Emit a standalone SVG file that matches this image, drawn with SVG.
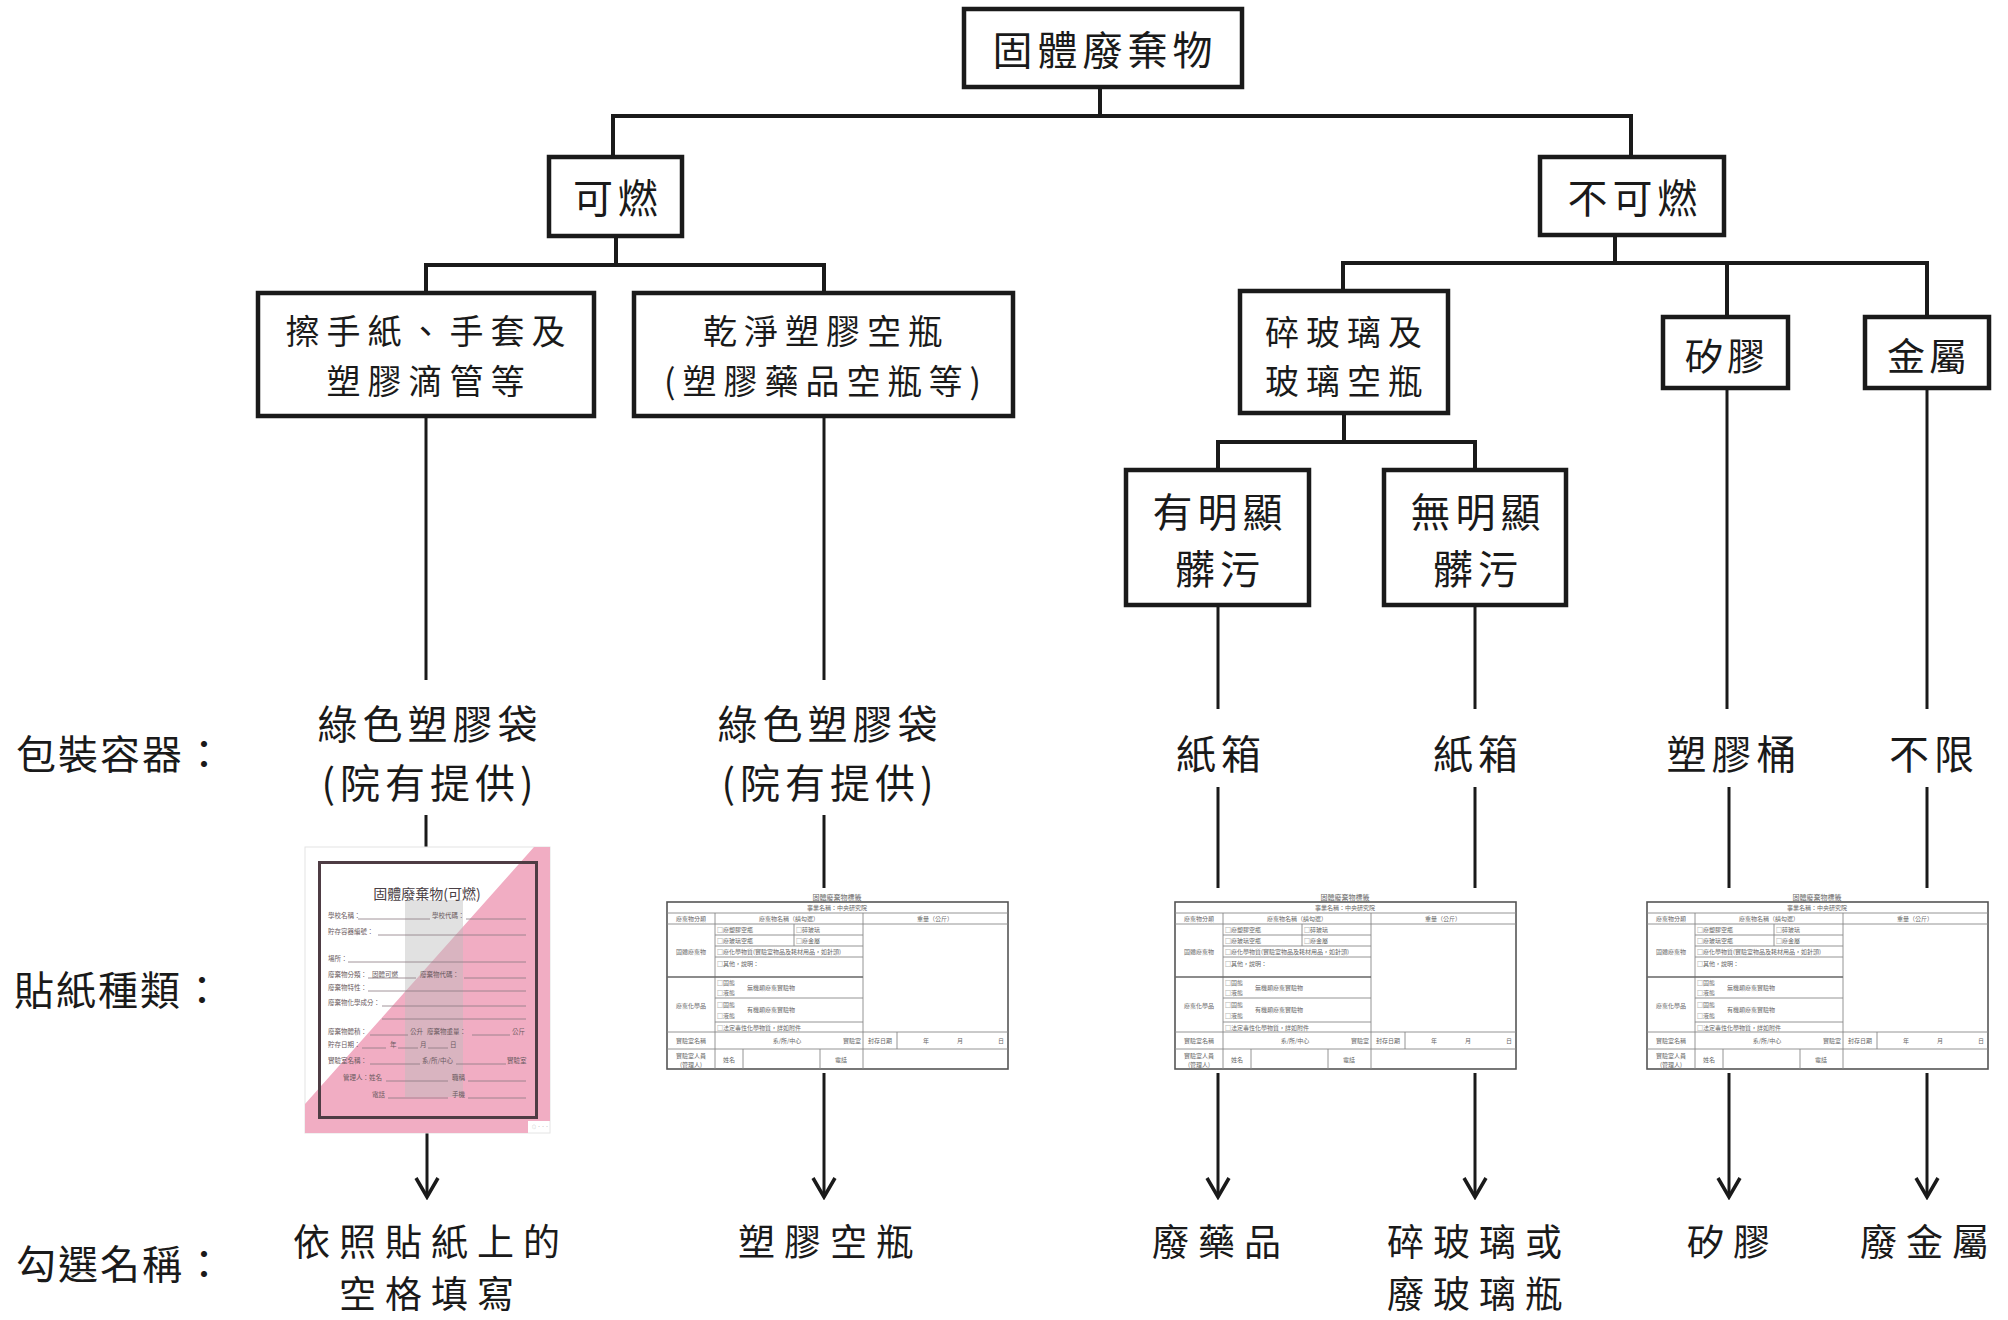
<svg xmlns="http://www.w3.org/2000/svg" xmlns:xlink="http://www.w3.org/1999/xlink" width="2008" height="1320" viewBox="0 0 2008 1320">
<style>
.box{fill:#fff;stroke:#1a1a1a;stroke-width:4.5}
.t{font-family:"Noto Sans CJK TC","Noto Sans CJK SC",sans-serif;font-size:40px;fill:#1a1a1a;text-anchor:middle;dominant-baseline:central;letter-spacing:5px}
.tb{font-family:"Noto Sans CJK TC","Noto Sans CJK SC",sans-serif;font-size:38px;fill:#1a1a1a;text-anchor:middle;dominant-baseline:central;letter-spacing:4px}
.t2{font-family:"Noto Sans CJK TC","Noto Sans CJK SC",sans-serif;font-size:34px;fill:#1a1a1a;text-anchor:middle;dominant-baseline:central;letter-spacing:7px}
.t3{font-family:"Noto Sans CJK TC","Noto Sans CJK SC",sans-serif;font-size:37px;fill:#1a1a1a;text-anchor:middle;dominant-baseline:central;letter-spacing:9px}
.lbl{font-family:"Noto Sans CJK TC","Noto Sans CJK SC",sans-serif;font-size:40px;fill:#1a1a1a;dominant-baseline:central;letter-spacing:2px}
.tree{stroke:#1a1a1a;stroke-width:4;fill:none;stroke-linecap:square}
.v{stroke:#1a1a1a;stroke-width:3;fill:none}
.fs{font-family:"Noto Sans CJK TC","Noto Sans CJK SC",sans-serif;font-size:6px;fill:#666;dominant-baseline:central}
.fc{text-anchor:middle}
.tl{stroke:#888;stroke-width:0.9;fill:none}
.sk{font-family:"Noto Sans CJK TC","Noto Sans CJK SC",sans-serif;font-size:6.5px;fill:#6a5a60;dominant-baseline:central}
.ul{stroke:#8a7a80;stroke-width:0.8}
</style>
<defs>
<marker id="arr" viewBox="0 0 24 26" refX="21" refY="13" markerWidth="24" markerHeight="26" markerUnits="userSpaceOnUse" orient="auto">
<path d="M2,2 L21,13 L2,24" fill="none" stroke="#1a1a1a" stroke-width="3.5"/>
</marker>
<g id="formTable">
<text class="fs fc" x="170" y="-5" style="font-size:7px">固體廢棄物標籤</text>
<rect x="0" y="0" width="341" height="167" fill="#fff" stroke="#555" stroke-width="1.6"/>
<path class="tl" d="M0,11H341M0,22H341M48,33H196M48,44H196M48,55H196M48,96H196M48,120H196M0,130H341M0,147H341M48,11V167M196,11V167M127,22V44M230,130V147M76,147V167M153,147V167"/>
<path d="M0,75H196" stroke="#666" stroke-width="1.3"/>
<text class="fs fc" x="170" y="5.5">事業名稱：中央研究院</text>
<text class="fs fc" x="24" y="16.5">廢棄物分類</text>
<text class="fs fc" x="122" y="16.5">廢棄物名稱（請勾選）</text>
<text class="fs fc" x="268" y="16.5">重量（公斤）</text>
<text class="fs fc" x="24" y="49">固體廢棄物</text>
<text class="fs fc" x="24" y="103">廢棄化學品</text>
<text class="fs" x="50" y="27.5">□廢塑膠空瓶</text>
<text class="fs" x="129" y="27.5">□碎玻璃</text>
<text class="fs" x="50" y="38.5">□廢玻璃空瓶</text>
<text class="fs" x="129" y="38.5">□廢金屬</text>
<text class="fs" x="50" y="49.5">□廢化學物質(實驗室物品及耗材用品，如針頭)</text>
<text class="fs" x="50" y="61">□其他，說明：</text>
<text class="fs" x="50" y="80">□固態</text>
<text class="fs" x="50" y="90">□液態</text>
<text class="fs" x="80" y="85">無機類廢棄實驗物</text>
<text class="fs" x="50" y="102">□固態</text>
<text class="fs" x="50" y="113">□液態</text>
<text class="fs" x="80" y="107.5">有機類廢棄實驗物</text>
<text class="fs" x="50" y="125">□法定毒性化學物質，詳如附件</text>
<text class="fs fc" x="24" y="138.5">實驗室名稱</text>
<text class="fs fc" x="120" y="138.5">系/所/中心</text>
<text class="fs" x="176" y="138.5">實驗室</text>
<text class="fs fc" x="213" y="138.5">封存日期</text>
<text class="fs" x="256" y="138.5">年</text>
<text class="fs" x="290" y="138.5">月</text>
<text class="fs" x="331" y="138.5">日</text>
<text class="fs fc" x="24" y="157"><tspan x="24" y="153">實驗室人員</tspan><tspan x="24" y="161.5">(管理人)</tspan></text>
<text class="fs fc" x="62" y="157">姓名</text>
<text class="fs fc" x="174" y="157">電話</text>
</g>
</defs>

<g id="connectors">
<path class="tree" d="M1100,87V116M613,116H1631M613,116V157M1631,116V157"/>
<path class="tree" d="M616,236V265M426,265H824M426,265V293M824,265V293"/>
<path class="tree" d="M1615,235V263M1343,263H1927M1343,263V291M1727,263V317M1927,263V317"/>
<path class="tree" d="M1344,413V442M1218,442H1475M1218,442V470M1475,442V470"/>
<path class="v" d="M426,416V680M426,815V847"/>
<path class="v" d="M824,416V680M824,815V888"/>
<path class="v" d="M1218,605V709M1218,787V888"/>
<path class="v" d="M1475,605V709M1475,787V888"/>
<path class="v" d="M1727,388V709M1729,787V888"/>
<path class="v" d="M1927,388V709M1927,787V888"/>
<line class="v" x1="427" y1="1133" x2="427" y2="1197" marker-end="url(#arr)"/>
<line class="v" x1="824" y1="1073" x2="824" y2="1197" marker-end="url(#arr)"/>
<line class="v" x1="1218" y1="1073" x2="1218" y2="1197" marker-end="url(#arr)"/>
<line class="v" x1="1475" y1="1073" x2="1475" y2="1197" marker-end="url(#arr)"/>
<line class="v" x1="1729" y1="1073" x2="1729" y2="1197" marker-end="url(#arr)"/>
<line class="v" x1="1927" y1="1073" x2="1927" y2="1197" marker-end="url(#arr)"/>
</g>

<g id="n-root"><rect class="box" x="964" y="9" width="278" height="78"/><text class="t" x="1105" y="48">固體廢棄物</text></g>
<g id="n-combustible"><rect class="box" x="549" y="157" width="133" height="79"/><text class="t" x="618" y="196">可燃</text></g>
<g id="n-noncombustible"><rect class="box" x="1540" y="157" width="184" height="78"/><text class="t" x="1635" y="196">不可燃</text></g>
<g id="n-paper"><rect class="box" x="258" y="293" width="336" height="123"/><text class="t2"><tspan x="429" y="329">擦手紙、手套及</tspan><tspan x="429" y="379">塑膠滴管等</tspan></text></g>
<g id="n-plastic"><rect class="box" x="634" y="293" width="379" height="123"/><text class="t2"><tspan x="826" y="329">乾淨塑膠空瓶</tspan><tspan x="826" y="379">(塑膠藥品空瓶等)</tspan></text></g>
<g id="n-glass"><rect class="box" x="1240" y="291" width="208" height="122"/><text class="t2"><tspan x="1347" y="330">碎玻璃及</tspan><tspan x="1347" y="379">玻璃空瓶</tspan></text></g>
<g id="n-silica"><rect class="box" x="1663" y="317" width="125" height="71"/><text class="tb" x="1727" y="353">矽膠</text></g>
<g id="n-metal"><rect class="box" x="1865" y="317" width="124" height="71"/><text class="tb" x="1929" y="353">金屬</text></g>
<g id="n-dirty"><rect class="box" x="1126" y="470" width="183" height="135"/><text class="t"><tspan x="1220" y="510">有明顯</tspan><tspan x="1220" y="567">髒污</tspan></text></g>
<g id="n-clean"><rect class="box" x="1384" y="470" width="182" height="135"/><text class="t"><tspan x="1478" y="510">無明顯</tspan><tspan x="1478" y="567">髒污</tspan></text></g>

<g id="row-labels">
<text class="lbl" x="16" y="752">包裝容器：</text>
<text class="lbl" x="14" y="988">貼紙種類：</text>
<text class="lbl" x="16" y="1262">勾選名稱：</text>
</g>

<g id="containers">
<text class="t"><tspan x="430" y="722">綠色塑膠袋</tspan><tspan x="430" y="781">(院有提供)</tspan></text>
<text class="t"><tspan x="830" y="722">綠色塑膠袋</tspan><tspan x="830" y="781">(院有提供)</tspan></text>
<text class="t" x="1221" y="752">紙箱</text>
<text class="t" x="1478" y="752">紙箱</text>
<text class="t" x="1734" y="752">塑膠桶</text>
<text class="t" x="1934" y="752">不限</text>
</g>

<g id="sticker">
<rect x="305" y="847" width="245" height="286" fill="#fff" stroke="#e4e4e4" stroke-width="1"/>
<polygon points="534,847 550,847 550,1121 528,1121 528,1133 305,1133 305,1104" fill="#f1adc3"/>
<rect x="405" y="900" width="58" height="197" fill="#bdbdbd" opacity="0.45"/>
<rect x="319.5" y="862.5" width="217" height="255" fill="none" stroke="#4e3c44" stroke-width="3"/>
<text class="sk" x="427" y="893" text-anchor="middle" style="font-size:14px;fill:#4a4045">固體廢棄物(可燃)</text>
<text class="sk" x="328" y="915">學校名稱：</text><line class="ul" x1="358" y1="919" x2="430" y2="919"/><text class="sk" x="432" y="915">學校代碼：</text><line class="ul" x1="466" y1="919" x2="526" y2="919"/>
<text class="sk" x="328" y="931">貯存容器編號：</text><line class="ul" x1="378" y1="935" x2="526" y2="935"/>
<text class="sk" x="328" y="958">場所：</text><line class="ul" x1="348" y1="962" x2="526" y2="962"/>
<text class="sk" x="328" y="974">廢棄物分類：</text><text class="sk" x="372" y="974">固體可燃</text><line class="ul" x1="368" y1="978" x2="416" y2="978"/><text class="sk" x="420" y="974">廢棄物代碼：</text><line class="ul" x1="464" y1="978" x2="526" y2="978"/>
<text class="sk" x="328" y="987">廢棄物特性：</text><line class="ul" x1="368" y1="991" x2="526" y2="991"/>
<text class="sk" x="328" y="1002">廢棄物化學成分：</text><line class="ul" x1="382" y1="1006" x2="526" y2="1006"/>
<line class="ul" x1="382" y1="1019" x2="526" y2="1019"/>
<text class="sk" x="328" y="1031">廢棄物體積：</text><line class="ul" x1="370" y1="1035" x2="408" y2="1035"/><text class="sk" x="410" y="1031">公升</text><text class="sk" x="427" y="1031">廢棄物重量：</text><line class="ul" x1="472" y1="1035" x2="510" y2="1035"/><text class="sk" x="512" y="1031">公斤</text>
<text class="sk" x="328" y="1044">貯存日期：</text><line class="ul" x1="362" y1="1048" x2="386" y2="1048"/><text class="sk" x="390" y="1044">年</text><line class="ul" x1="398" y1="1048" x2="418" y2="1048"/><text class="sk" x="420" y="1044">月</text><line class="ul" x1="428" y1="1048" x2="448" y2="1048"/><text class="sk" x="450" y="1044">日</text>
<text class="sk" x="328" y="1060">實驗室名稱：</text><line class="ul" x1="370" y1="1064" x2="420" y2="1064"/><text class="sk" x="422" y="1060">系/所/中心</text><line class="ul" x1="456" y1="1064" x2="506" y2="1064"/><text class="sk" x="507" y="1060">實驗室</text>
<text class="sk" x="343" y="1077">管理人：姓名</text><line class="ul" x1="386" y1="1081" x2="448" y2="1081"/><text class="sk" x="452" y="1077">職稱</text><line class="ul" x1="468" y1="1081" x2="526" y2="1081"/>
<text class="sk" x="372" y="1094">電話</text><line class="ul" x1="388" y1="1098" x2="448" y2="1098"/><text class="sk" x="452" y="1094">手機</text><line class="ul" x1="468" y1="1098" x2="526" y2="1098"/>
<text class="sk" x="532" y="1127" style="font-size:4px;fill:#aaa">◎ ···</text>
</g>

<g id="tables">
<use xlink:href="#formTable" x="667" y="902"/>
<use xlink:href="#formTable" x="1175" y="902"/>
<use xlink:href="#formTable" x="1647" y="902"/>
</g>

<g id="names">
<text class="t3"><tspan x="431" y="1240">依照貼紙上的</tspan><tspan x="431" y="1292">空格填寫</tspan></text>
<text class="t3" x="830" y="1240">塑膠空瓶</text>
<text class="t3" x="1221" y="1240">廢藥品</text>
<text class="t3"><tspan x="1479" y="1240">碎玻璃或</tspan><tspan x="1479" y="1292">廢玻璃瓶</tspan></text>
<text class="t3" x="1733" y="1240">矽膠</text>
<text class="t3" x="1929" y="1240">廢金屬</text>
</g>
</svg>
